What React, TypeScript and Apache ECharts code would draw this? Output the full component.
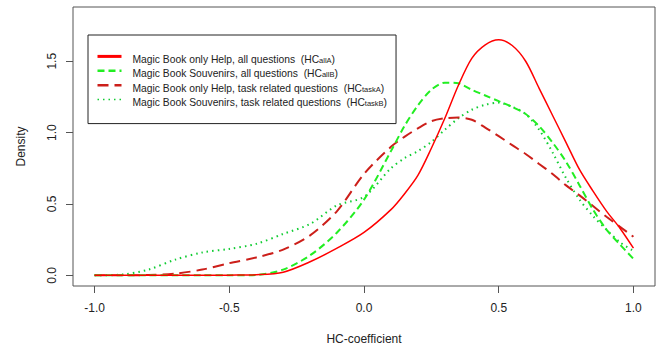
import React, { useEffect, useRef } from "react";
import * as echarts from "echarts";

const xs = [-1.0, -0.9, -0.8, -0.7, -0.6, -0.5, -0.4, -0.3, -0.2, -0.1, 0.0, 0.1, 0.15, 0.2, 0.25, 0.3, 0.35, 0.4, 0.45, 0.5, 0.55, 0.6, 0.65, 0.7, 0.75, 0.8, 0.85, 0.9, 0.95, 1.0];

const hcAllA = [0, 0, 0, 0, 0, 0.001, 0.004, 0.022, 0.095, 0.19, 0.3, 0.46, 0.57, 0.7, 0.89, 1.1, 1.33, 1.52, 1.615, 1.65, 1.61, 1.5, 1.31, 1.12, 0.93, 0.74, 0.59, 0.45, 0.33, 0.19];
const hcAllB = [0, 0, 0, 0, 0, 0, 0.003, 0.04, 0.14, 0.3, 0.53, 0.87, 1.045, 1.19, 1.3, 1.35, 1.345, 1.3, 1.26, 1.22, 1.18, 1.13, 1.045, 0.93, 0.795, 0.63, 0.46, 0.32, 0.215, 0.115];
const hcTaskA = [0, 0, 0.002, 0.012, 0.04, 0.085, 0.125, 0.18, 0.28, 0.45, 0.71, 0.9, 0.97, 1.03, 1.08, 1.1, 1.105, 1.09, 1.035, 0.975, 0.912, 0.85, 0.78, 0.71, 0.63, 0.56, 0.485, 0.41, 0.34, 0.27];
const hcTaskB = [0, 0.005, 0.04, 0.11, 0.16, 0.185, 0.22, 0.29, 0.36, 0.49, 0.55, 0.75, 0.82, 0.87, 0.935, 1.02, 1.1, 1.16, 1.195, 1.21, 1.18, 1.13, 1.02, 0.86, 0.68, 0.53, 0.415, 0.32, 0.232, 0.17];

const xTicks = [-1.0, -0.5, 0.0, 0.5, 1.0];
const yTicks = [0.0, 0.5, 1.0, 1.5];

const legendMain = [
  "Magic Book only Help, all questions  (HC",
  "Magic Book Souvenirs, all questions  (HC",
  "Magic Book only Help, task related questions  (HC",
  "Magic Book Souvenirs, task related questions  (HC",
];
const legendSub = ["allA", "allB", "taskA", "taskB"];
const seriesNames = ["HCallA", "HCallB", "HCtaskA", "HCtaskB"];

const pairs = (ys: number[]) => xs.map((x, i) => [x, ys[i]]);

export default function App() {
  const ref = useRef<HTMLDivElement>(null);
  useEffect(() => {
    if (!ref.current) return;
    const chart = echarts.init(ref.current, null, { renderer: "svg" });
    const font = "Liberation Sans, Arial, sans-serif";
    const styles = [
      { color: "#ff0000", width: 1.5, type: "solid" as any, legendWidth: 3 },
      { color: "#22ee22", width: 2, type: [7, 4] as any, legendWidth: 2.5 },
      { color: "#cc1f1a", width: 2, type: [11, 6] as any, legendWidth: 2.5 },
      { color: "#11cc33", width: 2, type: [1.5, 4] as any, legendWidth: 1.5 },
    ];
    const data = [hcAllA, hcAllB, hcTaskA, hcTaskB];
    chart.setOption({
      animation: false,
      backgroundColor: "#ffffff",
      grid: {
        left: 73,
        right: 7,
        top: 7,
        bottom: 66,
        show: true,
        borderColor: "#555",
        borderWidth: 1,
        backgroundColor: "transparent",
      },
      legend: {
        orient: "vertical",
        left: 88,
        top: 35,
        backgroundColor: "#fff",
        borderColor: "#222",
        borderWidth: 1,
        borderRadius: 0,
        padding: [15, 9, 16, 8],
        itemWidth: 24,
        itemHeight: 16,
        itemGap: 0,
        itemStyle: { opacity: 0, color: "transparent", borderWidth: 0 },
        data: seriesNames.map((n, i) => ({
          name: n,
          lineStyle: { width: styles[i].legendWidth },
          itemStyle: { opacity: 0, color: "transparent", borderWidth: 0 },
        })),
        formatter: (name: string) => {
          const i = seriesNames.indexOf(name);
          return `{n|${legendMain[i]}}{s|${legendSub[i]}}{n|)}`;
        },
        textStyle: {
          fontFamily: font,
          color: "#222",
          fontSize: 10.3,
          padding: [0, 0, 0, 6],
          rich: {
            n: { fontFamily: font, fontSize: 10.3, color: "#222", verticalAlign: "bottom", lineHeight: 16 },
            s: { fontFamily: font, fontSize: 7.5, color: "#222", verticalAlign: "bottom", lineHeight: 15 },
          },
        },
      },
      xAxis: {
        type: "value",
        min: -1.08,
        max: 1.08,
        name: "HC-coefficient",
        nameLocation: "middle",
        nameGap: 47,
        nameTextStyle: { fontFamily: font, fontSize: 12, color: "#222", verticalAlign: "top" },
        axisLine: { show: false, onZero: false },
        splitLine: { show: false },
        axisTick: { show: true, inside: false, length: 7, customValues: xTicks, lineStyle: { color: "#555" } },
        axisLabel: {
          customValues: xTicks,
          formatter: (v: number) => v.toFixed(1),
          margin: 16,
          fontFamily: font,
          fontSize: 12,
          color: "#222",
        },
      },
      yAxis: {
        type: "value",
        min: -0.075,
        max: 1.88,
        name: "Density",
        nameLocation: "middle",
        nameGap: 46,
        nameTextStyle: { fontFamily: font, fontSize: 12, color: "#222" },
        axisLine: { show: false, onZero: false },
        splitLine: { show: false },
        axisTick: { show: true, inside: false, length: 7, customValues: yTicks, lineStyle: { color: "#555" } },
        axisLabel: {
          customValues: yTicks,
          formatter: (v: number) => v.toFixed(1),
          rotate: 90,
          margin: 15,
          fontFamily: font,
          fontSize: 12,
          color: "#222",
        },
      },
      series: seriesNames.map((n, i) => ({
        name: n,
        type: "line",
        data: pairs(data[i]),
        smooth: 0.3,
        symbol: "none",
        showSymbol: false,
        clip: true,
        lineStyle: { color: styles[i].color, width: styles[i].width, type: styles[i].type },
        itemStyle: { color: styles[i].color },
        z: 4 - i,
      })),
    });
    return () => chart.dispose();
  }, []);
  return (
    <div
      ref={ref}
      style={{ position: "fixed", left: 0, top: 0, width: 662, height: 352 }}
    />
  );
}
